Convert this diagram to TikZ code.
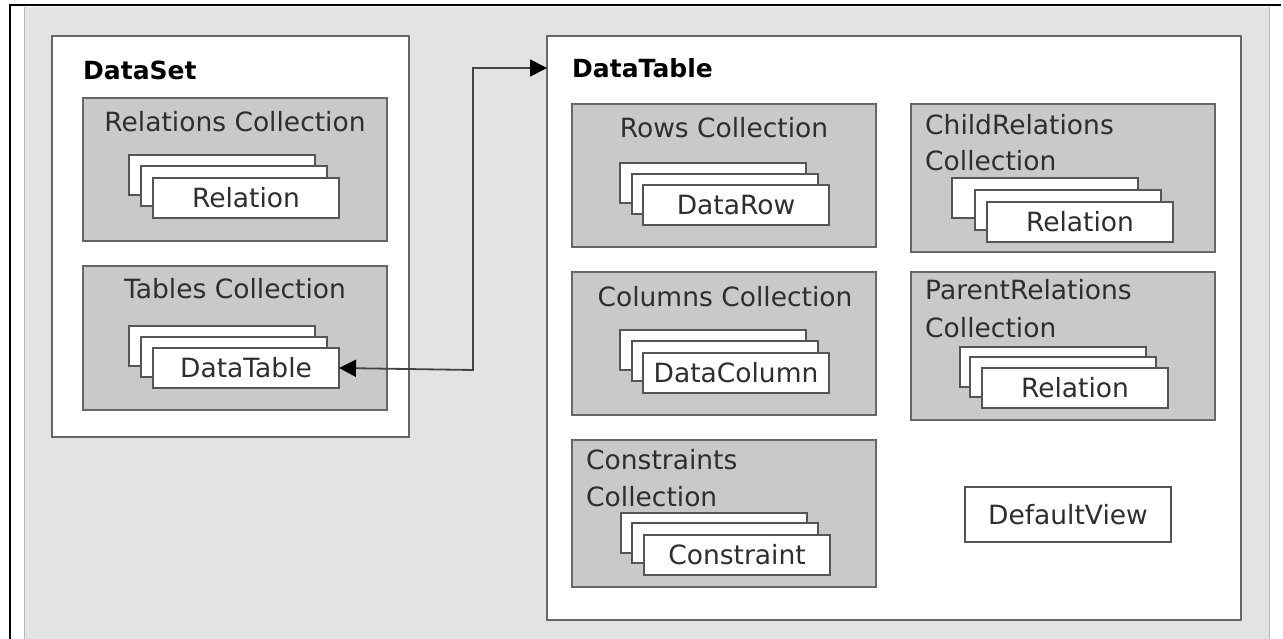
\documentclass[tikz,border=0pt]{standalone}
\usepackage{fontspec}
\setmainfont{DejaVu Sans}
\usetikzlibrary{arrows.meta}
\definecolor{bg}{HTML}{E3E3E3}
\definecolor{bgedge}{HTML}{B8B8B8}
\definecolor{edge}{HTML}{666666}
\definecolor{collfill}{HTML}{C9C9C9}
\definecolor{cardedge}{HTML}{555555}
\definecolor{txt}{HTML}{2E2E2E}
\definecolor{linkc}{HTML}{444444}
\begin{document}
\begin{tikzpicture}[x=1pt,y=-1pt,
  panel/.style={draw=edge, line width=1.6pt, fill=white, anchor=north west, inner sep=0pt, outer sep=0pt},
  coll/.style={draw=edge, line width=1.6pt, fill=collfill, anchor=north west, inner sep=0pt, outer sep=0pt, minimum width=304pt},
  card/.style={draw=cardedge, line width=1.5pt, fill=white, anchor=north west, minimum width=186pt, minimum height=40pt, inner sep=0pt, outer sep=0pt, font=\fontsize{26.5}{30}\selectfont, text=txt},
  ttl/.style={inner sep=0pt, font=\fontsize{26.5}{30}\selectfont, text=txt},
  head/.style={inner sep=0pt, anchor=west, font=\fontsize{25}{30}\selectfont\bfseries, text=black},
  link/.style={draw=linkc, line width=1.8pt, {Triangle[length=17pt,width=17pt,fill=black,color=black]}-{Triangle[length=17pt,width=17pt,fill=black,color=black]}}
]
\useasboundingbox (0,0) rectangle (1283,639);
% frame
\fill[bg] (24,7) rectangle (1270,639);
\draw[bgedge, line width=1.5pt] (24.5,7) -- (24.5,639) (1269.5,7) -- (1269.5,639);
\draw[black, line width=2.5pt] (10,639) -- (10,5) -- (1281,5);

% DataSet panel
\node[panel, minimum width=357pt, minimum height=401pt] (ds) at (52,36) {};
\node[head] (dsl) at (83,70) {DataSet};

\node[coll, minimum height=143pt] (relc) at (83,98) {};
\node[ttl] (relt) at (235,122) {Relations Collection};
\node[card] (rc1) at (129,155) {};
\node[card] (rc2) at (141,166) {};
\node[card] (rc3) at (153,178) {Relation};

\node[coll, minimum height=144pt] (tabc) at (83,266) {};
\node[ttl] (tabt) at (235,289) {Tables Collection};
\node[card] (tc1) at (129,326) {};
\node[card] (tc2) at (141,337) {};
\node[card] (tc3) at (153,348) {DataTable};

% DataTable panel
\node[panel, minimum width=694pt, minimum height=584pt] (dt) at (547,36) {};
\node[head] (dtl) at (572,68) {DataTable};

\node[coll, minimum height=143pt] (rowc) at (572,104) {};
\node[ttl] (rowt) at (724,128) {Rows Collection};
\node[card] (wc1) at (620,163) {};
\node[card] (wc2) at (632,174) {};
\node[card] (wc3) at (643,185) {DataRow};

\node[coll, minimum height=143pt] (colc) at (572,272) {};
\node[ttl] (colt) at (725,297) {Columns Collection};
\node[card] (cc1) at (620,330) {};
\node[card] (cc2) at (632,341) {};
\node[card] (cc3) at (643,353) {DataColumn};

\node[coll, minimum height=147pt] (conc) at (572,440) {};
\node[ttl, anchor=west] (cont1) at (586,460) {Constraints};
\node[ttl, anchor=west] (cont2) at (586,497) {Collection};
\node[card] (nc1) at (621,513) {};
\node[card] (nc2) at (632,523) {};
\node[card] (nc3) at (644,535) {Constraint};

\node[coll, minimum height=148pt] (chc) at (911,104) {};
\node[ttl, anchor=west] (cht1) at (925,125) {ChildRelations};
\node[ttl, anchor=west] (cht2) at (925,161) {Collection};
\node[card] (hc1) at (952,178) {};
\node[card] (hc2) at (975,190) {};
\node[card] (hc3) at (987,202) {Relation};

\node[coll, minimum height=148pt] (pac) at (911,272) {};
\node[ttl, anchor=west] (pat1) at (925,290) {ParentRelations};
\node[ttl, anchor=west] (pat2) at (925,328) {Collection};
\node[card] (pc1) at (960,347) {};
\node[card] (pc2) at (970,357) {};
\node[card] (pc3) at (982,368) {Relation};

\node[card, minimum width=206pt, minimum height=55pt] (dv) at (965,487) {DefaultView};

% connector
\coordinate (turn) at (473,370);
\coordinate (dtin) at (dt.west |- dtl);
\draw[link] (tc3.east) -- (turn) |- (dtin);
\end{tikzpicture}
\end{document}
